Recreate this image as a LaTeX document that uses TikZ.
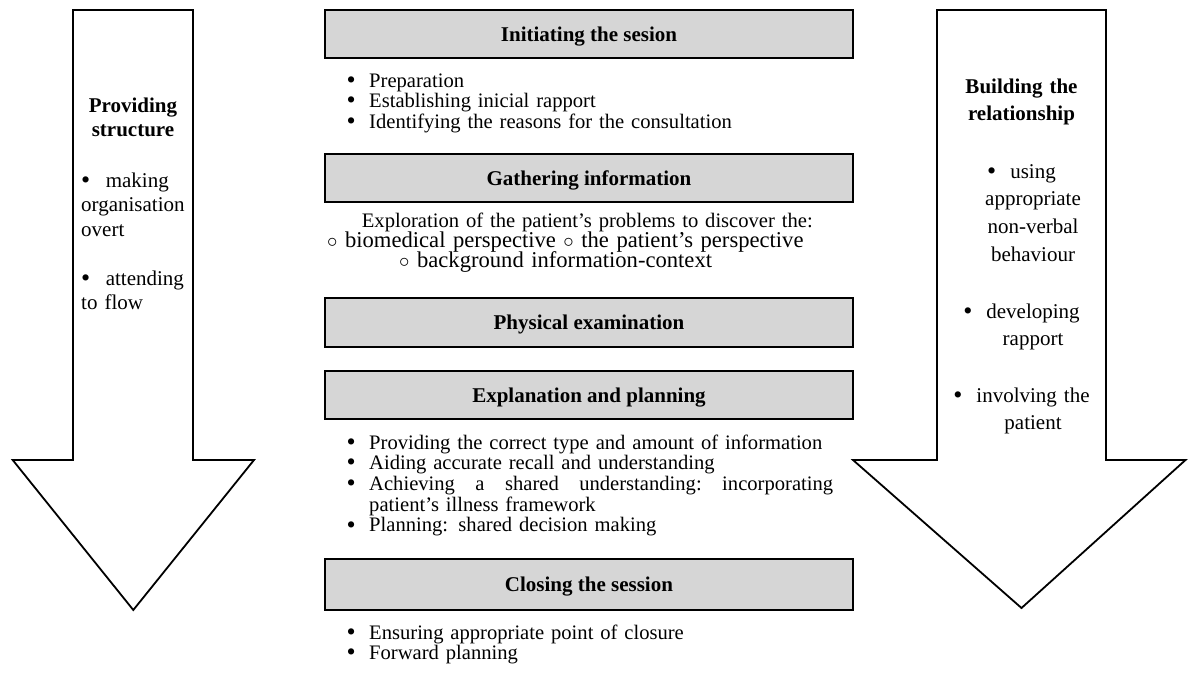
\documentclass[tikz,border=0pt]{standalone}
\usepackage{fontspec}
\setmainfont{Liberation Serif}
% a slightly enlarged bullet glyph
\newcommand\dotmark{\raisebox{-1.2pt}{\fontsize{26}{0}\selectfont\textbullet}}
% hanging bullet placed in front of a list line
\newcommand\blt{\leavevmode\llap{\dotmark\hspace{13.5pt}}}
\newcommand\cblt{\leavevmode\llap{\dotmark\hspace{14pt}}}
\begin{document}
\begin{tikzpicture}[x=1pt,y=-1pt,
  body/.style={font=\fontsize{20.6}{20.7}\selectfont, inner sep=0pt, anchor=base west, text width=480pt, align=left},
  circline/.style={body, text width=580pt, font=\fontsize{22.6}{20.7}\selectfont},
  lefttxt/.style={font=\fontsize{21}{24.5}\selectfont, inner sep=0pt, anchor=base west, text width=118pt, align=left},
  righttxt/.style={font=\fontsize{21}{27.8}\selectfont, inner sep=0pt, anchor=base, text width=160pt, align=center},
  heading/.style={font=\fontsize{21}{24.5}\selectfont\bfseries, inner sep=0pt, anchor=base, text width=160pt, align=center},
  stage/.style={draw=black, line width=1.6pt, fill=black!16, minimum width=528pt, minimum height=48pt,
    inner sep=0pt, text height=14pt, text depth=0pt, font=\fontsize{21}{24}\selectfont\bfseries},
  bigarrow/.style={draw=black, line width=1.8pt, fill=white, line join=miter}
]
\useasboundingbox (0,0) rectangle (1188,672);

% side arrows
\draw[bigarrow] (73,10) -- (193,10) -- (193,460) -- (254,460) -- (133.3,610)
  -- (12.7,460) -- (73,460) -- cycle;
\draw[bigarrow] (937,10) -- (1106,10) -- (1106,460) -- (1185.5,460) -- (1021.5,608)
  -- (853,460) -- (937,460) -- cycle;

% left arrow text
\node[heading] (ps) at (133,112) {Providing\\structure};
\node[lefttxt] (ps1) at (81,187) {\dotmark\hspace{15.5pt}making\\organisation\\overt};
\node[lefttxt] (ps2) at (81,285) {\dotmark\hspace{15.5pt}attending\\to flow};

% right arrow text
\node[heading, font=\fontsize{21}{27.8}\selectfont\bfseries] (br) at (1021.5,93) {Building the\\relationship};
\node[righttxt] (br1) at (1033,178) {\cblt using\\appropriate\\non-verbal\\behaviour};
\node[righttxt] (br2) at (1033,318) {\cblt developing\\rapport};
\node[righttxt] (br3) at (1033,402) {\cblt involving the\\patient};

% stages of the consultation
\node[stage] (s1) at (589,34) {Initiating the sesion};
\node[stage] (s2) at (589,178) {Gathering information};
\node[stage, minimum height=49pt] (s3) at (589,322.5) {Physical examination};
\node[stage] (s4) at (589,395) {Explanation and planning};
\node[stage, minimum height=51pt] (s5) at (589,584.5) {Closing the session};

\node[body] (t1) at (369,87) {\blt Preparation\\\blt Establishing inicial rapport\\\blt Identifying the reasons for the consultation};

\node[body] (t2a) at (361.7,227) {Exploration of the patient’s problems to discover the:};
\node[circline] (t2b) at (327,247) {$\circ$ biomedical perspective $\circ$ the patient’s perspective};
\node[circline] (t2c) at (399,267) {$\circ$ background information-context};

\node[body] (t4) at (369,449) {\blt Providing the correct type and amount of information\\
  \blt Aiding accurate recall and understanding\\
  \blt\hbox to 464pt{Achieving\hfill a\hfill shared\hfill understanding:\hfill incorporating}\\
  patient’s illness framework\\
  \blt Planning: shared decision making};

\node[body] (t5) at (369,639) {\blt Ensuring appropriate point of closure\\\blt Forward planning};
\end{tikzpicture}
\end{document}
